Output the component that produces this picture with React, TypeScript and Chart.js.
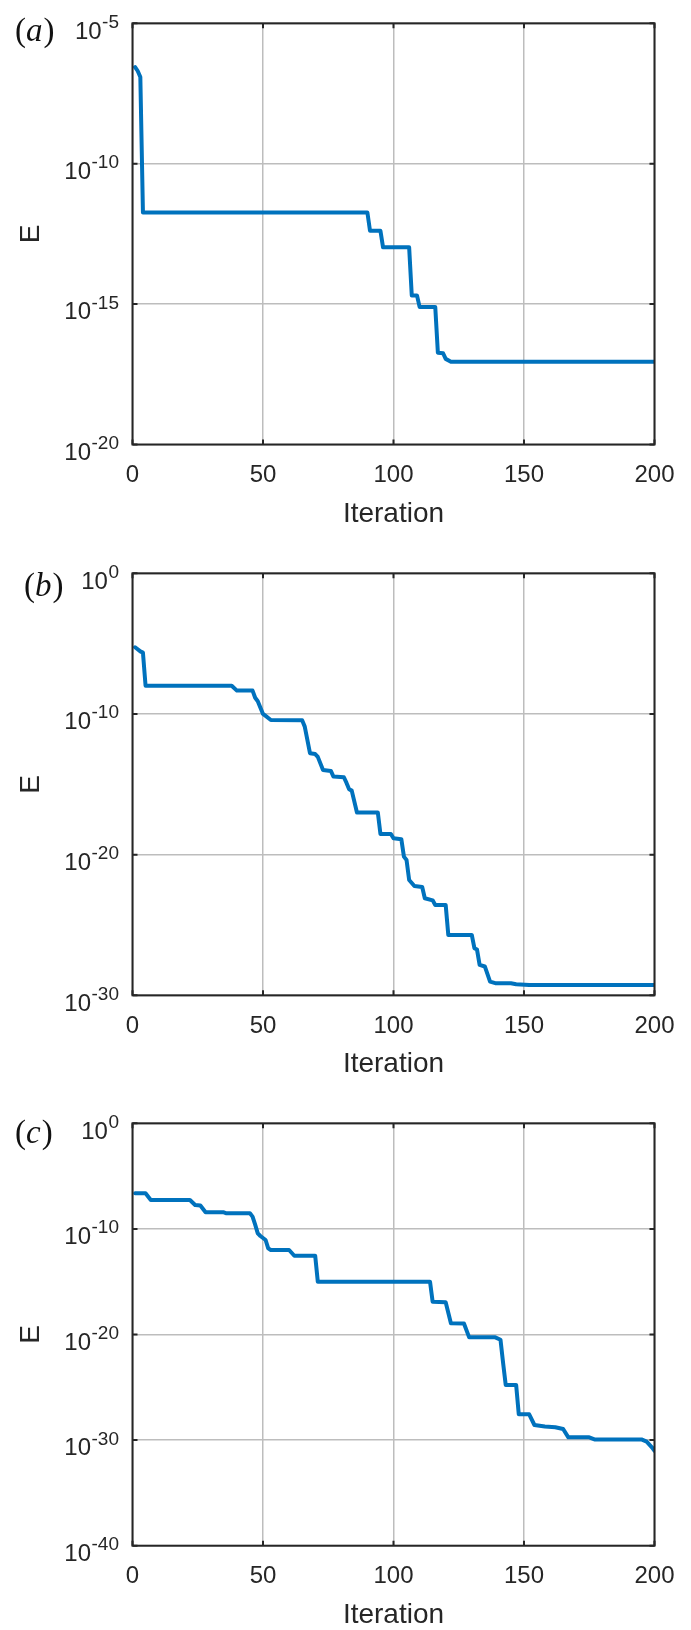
import React, { useEffect, useRef } from "react";
import { Chart, registerables } from "chart.js";

Chart.register(...registerables);

// ---------------- data ----------------
const xTickValues = [0, 50, 100, 150, 200];
const xTitle = "Iteration";
const yTitle = "E";

const iterA = [1, 2, 3, 4, 90, 91, 95, 96, 106, 107, 109, 110, 116, 117, 119, 120, 122, 200];
const errA = [
  2.75e-7, 2.0e-7, 1.23e-7, 1.82e-12, 1.82e-12, 4.07e-13, 4.07e-13, 1.05e-13, 1.05e-13,
  2.04e-15, 2.04e-15, 7.94e-16, 7.94e-16, 1.86e-17, 1.78e-17, 1.12e-17, 8.91e-18, 8.91e-18,
];
const yTicksA = [1e-20, 1e-15, 1e-10, 1e-5];

const iterB = [
  1, 3, 4, 5, 38, 40, 46, 47, 48, 50, 51, 53, 65, 66, 68, 70, 71, 73, 76, 77, 81, 82, 83, 84, 86,
  94, 95, 99, 100, 103, 104, 105, 106, 108, 111, 112, 115, 116, 120, 121, 130, 131, 132, 133, 135,
  137, 139, 145, 147, 152, 200,
];
const errB = [
  5.5e-6, 2.82e-6, 2.29e-6, 1.02e-8, 1.02e-8, 4.57e-9, 4.57e-9, 1.41e-9, 7.94e-10, 1.0e-10,
  7.24e-11, 3.72e-11, 3.55e-11, 1.26e-11, 1.62e-13, 1.41e-13, 8.91e-14, 1.05e-14, 8.91e-15,
  3.55e-15, 3.16e-15, 1.26e-15, 4.47e-16, 3.55e-16, 1.0e-17, 1.0e-17, 2.95e-19, 2.95e-19,
  1.45e-19, 1.26e-19, 7.24e-21, 4.17e-21, 1.58e-22, 5.89e-23, 5.01e-23, 7.94e-24, 5.62e-24,
  2.63e-24, 2.63e-24, 1.95e-26, 1.95e-26, 2.24e-27, 1.78e-27, 1.45e-28, 1.12e-28, 9.33e-30,
  7.24e-30, 7.24e-30, 6.17e-30, 5.5e-30, 5.5e-30,
];
const yTicksB = [1e-30, 1e-20, 1e-10, 1];

const iterC = [
  1, 5, 7, 22, 24, 26, 28, 35, 36, 45, 46, 47, 48, 49, 51, 52, 53, 60, 62, 70, 71, 114, 115, 120,
  122, 127, 129, 139, 141, 142, 143, 147, 148, 152, 154, 158, 162, 165, 167, 175, 177, 195, 197,
  199, 200,
];
const errC = [
  2.34e-7, 2.34e-7, 5.5e-8, 5.5e-8, 1.82e-8, 1.66e-8, 3.72e-9, 3.72e-9, 3.02e-9, 3.02e-9, 1.45e-9,
  2.51e-10, 3.8e-11, 2.14e-11, 8.91e-12, 1.45e-12, 1.0e-12, 1.0e-12, 2.88e-13, 2.88e-13, 1.0e-15,
  1.0e-15, 1.29e-17, 1.12e-17, 1.15e-19, 1.1e-19, 5.37e-21, 5.37e-21, 3.16e-21, 2.0e-23, 1.66e-25,
  1.66e-25, 2.75e-28, 2.75e-28, 2.69e-29, 1.91e-29, 1.66e-29, 1.12e-29, 1.82e-30, 1.82e-30,
  1.17e-30, 1.17e-30, 7.08e-31, 2.09e-31, 1.0e-31,
];
const yTicksC = [1e-40, 1e-30, 1e-20, 1e-10, 1];

const panelLetters = ["a", "b", "c"];

// ---------------- layout / style ----------------
const W = 691;
const PLOT_LEFT = 132.5;
const PLOT_RIGHT = 665.5;
const SANS = "'Liberation Sans', Arial, Helvetica, sans-serif";
const SERIF = "'Liberation Serif', 'Times New Roman', serif";
const TEXT = "#262626";
const LINE = "#0072BD";
const GRID = "#bdbdbd";

type Panel = {
  iters: number[];
  errs: number[];
  yTicks: number[];
  letter: string;
  top: number;
  height: number;
  plotTop: number;
  plotBottom: number;
  labelX: number;
  labelBaseline: number;
};

const panels: Panel[] = [
  { iters: iterA, errs: errA, yTicks: yTicksA, letter: panelLetters[0], top: 0, height: 540, plotTop: 23.3, plotBottom: 444.5, labelX: 15, labelBaseline: 41 },
  { iters: iterB, errs: errB, yTicks: yTicksB, letter: panelLetters[1], top: 540, height: 540, plotTop: 33.3, plotBottom: 455.3, labelX: 24, labelBaseline: 56 },
  { iters: iterC, errs: errC, yTicks: yTicksC, letter: panelLetters[2], top: 1080, height: 550, plotTop: 43.3, plotBottom: 465.7, labelX: 15, labelBaseline: 63 },
];

const matlabAxes = {
  id: "matlabAxes",
  afterDatasetsDraw(chart: any) {
    const { ctx, chartArea: a, scales } = chart;
    const tl = 5;
    ctx.save();
    ctx.strokeStyle = TEXT;
    ctx.lineWidth = 2;
    ctx.beginPath();
    for (const t of scales.x.ticks) {
      const px = scales.x.getPixelForValue(t.value);
      ctx.moveTo(px, a.bottom);
      ctx.lineTo(px, a.bottom - tl);
      ctx.moveTo(px, a.top);
      ctx.lineTo(px, a.top + tl);
    }
    for (const t of scales.y.ticks) {
      const py = scales.y.getPixelForValue(t.value);
      ctx.moveTo(a.left, py);
      ctx.lineTo(a.left + tl, py);
      ctx.moveTo(a.right, py);
      ctx.lineTo(a.right - tl, py);
    }
    ctx.stroke();
    ctx.strokeRect(a.left, a.top, a.right - a.left, a.bottom - a.top);
    ctx.restore();
  },
  afterDraw(chart: any, _args: any, opts: any) {
    const { ctx, chartArea: a, scales } = chart;
    ctx.save();
    ctx.fillStyle = TEXT;
    ctx.textBaseline = "alphabetic";
    // y tick labels: 10 with superscript exponent
    for (const t of scales.y.ticks) {
      const py = scales.y.getPixelForValue(t.value);
      const exp = String(Math.round(Math.log10(t.value)));
      ctx.font = `19px ${SANS}`;
      const supW = ctx.measureText(exp).width;
      const supRight = a.left - 13.5;
      ctx.textAlign = "right";
      ctx.fillText(exp, supRight, py + 4.5);
      ctx.font = `24px ${SANS}`;
      ctx.fillText("10", supRight - supW - 0.5, py + 15.3);
    }
    // panel label
    ctx.textAlign = "left";
    ctx.fillStyle = "#111";
    let x = opts.labelX;
    const b = opts.labelBaseline;
    ctx.font = `33px ${SERIF}`;
    ctx.fillText("(", x, b);
    x += ctx.measureText("(").width;
    ctx.font = `italic 33px ${SERIF}`;
    ctx.fillText(opts.letter, x, b);
    x += ctx.measureText(opts.letter).width + 1;
    ctx.font = `33px ${SERIF}`;
    ctx.fillText(")", x, b);
    ctx.restore();
  },
};

function PanelChart({ p }: { p: Panel }) {
  const ref = useRef<HTMLCanvasElement>(null);
  useEffect(() => {
    const canvas = ref.current!;
    const xAxisHeight = p.height - p.plotBottom;
    const titleLH = 28;
    const titlePadBottom = Math.max(0, p.height - titleLH / 2 - p.plotBottom - 69.3);
    const chart = new Chart(canvas, {
      type: "line",
      data: {
        datasets: [
          {
            data: p.iters.map((x, i) => ({ x, y: p.errs[i] })),
            borderColor: LINE,
            backgroundColor: LINE,
            borderWidth: 4,
            pointRadius: 0,
            tension: 0,
            fill: false,
            borderJoinStyle: "round",
            borderCapStyle: "round",
          },
        ],
      },
      options: {
        animation: false,
        responsive: false,
        maintainAspectRatio: false,
        devicePixelRatio: 1,
        events: [],
        layout: { padding: { top: p.plotTop, right: W - PLOT_RIGHT, left: 0, bottom: 0 } },
        plugins: {
          legend: { display: false },
          tooltip: { enabled: false },
          matlabAxes: { letter: p.letter, labelX: p.labelX, labelBaseline: p.labelBaseline },
        } as any,
        scales: {
          x: {
            type: "linear",
            min: 0,
            max: 200,
            afterBuildTicks: (s: any) => {
              s.ticks = xTickValues.map((v) => ({ value: v }));
            },
            afterFit: (s: any) => {
              s.height = xAxisHeight;
            },
            grid: { color: GRID, lineWidth: 1.5, drawTicks: false },
            border: { display: false },
            ticks: {
              autoSkip: false,
              maxRotation: 0,
              padding: 16.5,
              color: TEXT,
              font: { family: SANS, size: 24 },
            },
            title: {
              display: true,
              text: xTitle,
              color: TEXT,
              font: { family: SANS, size: 28, lineHeight: 1 },
              padding: { top: 0, bottom: titlePadBottom },
            },
          },
          y: {
            type: "logarithmic",
            min: p.yTicks[0],
            max: p.yTicks[p.yTicks.length - 1],
            afterBuildTicks: (s: any) => {
              s.ticks = p.yTicks.map((v) => ({ value: v }));
            },
            afterFit: (s: any) => {
              s.width = PLOT_LEFT;
            },
            grid: { color: GRID, lineWidth: 1.5, drawTicks: false },
            border: { display: false },
            ticks: { display: false },
            title: {
              display: true,
              text: yTitle,
              color: TEXT,
              font: { family: SANS, size: 28, lineHeight: 1.2 },
              padding: { top: 14.2, bottom: 0 },
            },
          },
        },
      } as any,
      plugins: [matlabAxes as any],
    });
    return () => chart.destroy();
  }, [p]);
  return (
    <canvas
      ref={ref}
      width={W}
      height={p.height}
      style={{ position: "absolute", left: 0, top: p.top, width: W, height: p.height, display: "block" }}
    />
  );
}

export default function App() {
  return (
    <div style={{ position: "absolute", left: 0, top: 0, width: W, height: 1630, background: "#fff", overflow: "hidden" }}>
      {panels.map((p) => (
        <PanelChart key={p.letter} p={p} />
      ))}
    </div>
  );
}
